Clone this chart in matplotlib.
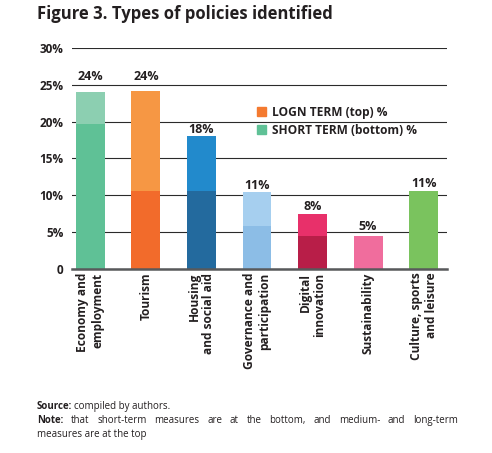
"""
Figure 3. Types of policies identified - stacked bars (short term bottom / long term top)
"""
import matplotlib
matplotlib.use('Agg')
from matplotlib import pyplot as plt
from matplotlib.patches import Patch

plt.rcParams['font.family'] = ['Open Sans', 'DejaVu Sans']

categories = ['Economy and\nemployment', 'Tourism', 'Housing\nand social aid',
              'Governance and\nparticipation', 'Digital\ninnovation',
              'Sustainability', 'Culture, sports\nand leisure']
short_term = [19.6, 10.6, 10.6, 5.8, 4.45, 4.4, 10.6]
long_term = [4.4, 13.55, 7.4, 4.6, 3.0, 0.0, 0.0]
total_labels = ['24%', '24%', '18%', '11%', '8%', '5%', '11%']

short_colors = ['#5fc196', '#f26b2b', '#236a9e', '#8cbde6', '#b81e48', '#f06d9d', '#7ac35e']
long_colors = ['#8ccfb1', '#f69744', '#228acc', '#a6cfef', '#e8306a', '#f06d9d', '#7ac35e']
label_offsets = [6.5, 5.8, 0, 0, 0.7, 2, 0.3]

yticks = [0, 5, 10, 15, 20, 25, 30]
ytick_labels = ['0', '5%', '10%', '15%', '20%', '25%', '30%']

DARK = '#231f20'

fig = plt.figure(figsize=(4.92, 4.53), dpi=100)
ax = fig.add_axes([72 / 492, 1 - 268.5 / 453, 375 / 492, 220.5 / 453])

x = range(len(categories))
ax.bar(x, short_term, width=0.52, color=short_colors, zorder=3)
ax.bar(x, long_term, width=0.52, bottom=short_term, color=long_colors, zorder=3)

for i, lab in enumerate(total_labels):
    ax.annotate(lab, (i, short_term[i] + long_term[i]), xytext=(0, label_offsets[i]),
                textcoords='offset points', ha='center', va='bottom',
                fontsize=9, fontweight='bold', color=DARK)

ax.set_ylim(0, 30)
ax.set_xlim(-0.33, 6.42)
ax.set_yticks(yticks)
ax.set_yticklabels(ytick_labels, fontsize=8.5, fontweight='bold', color=DARK)
ax.set_xticks(list(x))
ax.set_xticklabels(categories, rotation=90, fontsize=8.6, fontweight='bold',
                   color=DARK, ha='center', va='top', multialignment='right',
                   linespacing=1.17)
ax.tick_params(axis='both', length=0)
ax.tick_params(axis='y', pad=6)
ax.tick_params(axis='x', pad=3)

ax.yaxis.grid(True, color='#2b2b2b', linewidth=0.8, zorder=0)
for s in ['top', 'right', 'left']:
    ax.spines[s].set_visible(False)
ax.spines['bottom'].set_color('#58595b')
ax.spines['bottom'].set_linewidth(1.8)
ax.spines['bottom'].set_zorder(4)

handles = [Patch(color='#f47a30', label='LOGN TERM (top) %'),
           Patch(color='#5fc196', label='SHORT TERM (bottom) %')]
leg = ax.legend(handles=handles, loc='center left', bbox_to_anchor=(0.493, 0.668),
                frameon=False, handlelength=0.8, handleheight=0.8,
                handletextpad=0.45, labelspacing=0.39, borderpad=0,
                borderaxespad=0, prop={'size': 8.6, 'weight': 'bold'})
for t in leg.get_texts():
    t.set_color(DARK)

fig.text(37 / 492, 1 - 14 / 453, 'Figure 3. Types of policies identified',
         fontsize=12, fontweight='bold', color=DARK, va='center')

# 出典と注記
fs = 7
src = fig.text(37 / 492, 1 - 409 / 453, 'Source:', fontsize=fs, fontweight='bold',
               color=DARK, va='baseline')
fig.canvas.draw()
renderer = fig.canvas.get_renderer()
bb = src.get_window_extent(renderer)
fig.text((bb.x1 + 2) / 492, 1 - 409 / 453, 'compiled by authors.', fontsize=fs,
         color=DARK, va='baseline')

# 一行目は両端揃え
line1 = [('Note:', 'bold')] + [(w, 'normal') for w in
         'that short-term measures are at the bottom, and medium- and long-term'.split()]
y1 = 1 - 423 / 453
widths = []
texts = []
for w, wt in line1:
    t = fig.text(0, y1, w, fontsize=fs, fontweight=wt, color=DARK, va='baseline')
    texts.append(t)
    widths.append(t.get_window_extent(renderer).width)
left, right = 37, 458
gap = (right - left - sum(widths)) / (len(widths) - 1)
xpos = left
for t, w in zip(texts, widths):
    t.set_x(xpos / 492)
    xpos += w + gap
fig.text(37 / 492, 1 - 437 / 453, 'measures are at the top', fontsize=fs,
         color=DARK, va='baseline')

fig.savefig('out.png', dpi=100)
